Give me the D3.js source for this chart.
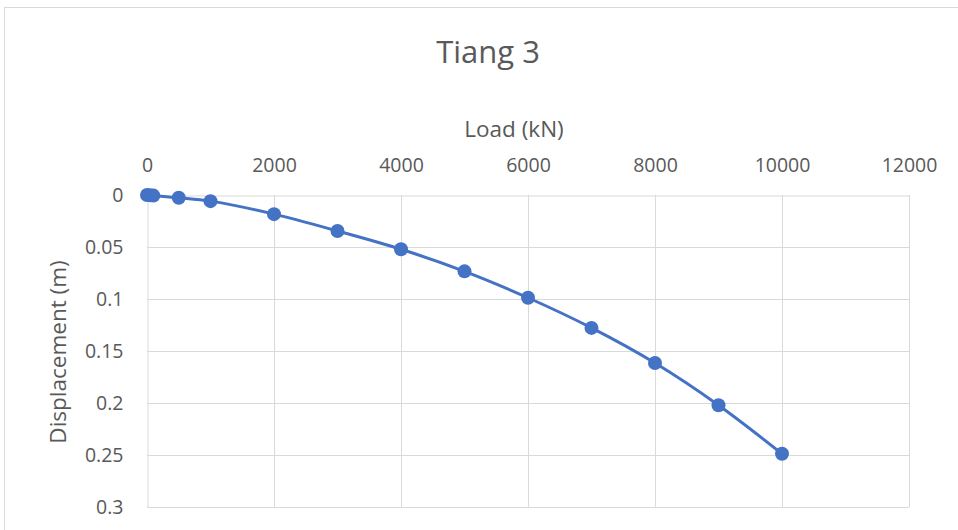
<!DOCTYPE html>
<html>
<head>
<meta charset="utf-8">
<script src="https://cdn.jsdelivr.net/npm/d3@7"></script>
<style>
html,body{margin:0;padding:0;background:#fff;}
svg{display:block;font-family:"Open Sans",sans-serif;}
</style>
</head>
<body>
<svg id="chart" width="958" height="530"></svg>
<script>
const chartTitle = "Tiang 3";
const xTitle = "Load (kN)";
const yTitle = "Displacement (m)";
const loads = [0, 50, 100, 500, 1000, 2000, 3000, 4000, 5000, 6000, 7000, 8000, 9000, 10000];
const displacements = [0, 0.0003, 0.0006, 0.0027, 0.0059, 0.0184, 0.0346, 0.0522, 0.0734, 0.0988, 0.1278, 0.1616, 0.2021, 0.2488];
const xTicks = [0, 2000, 4000, 6000, 8000, 10000, 12000];
const xTickLabels = ["0", "2000", "4000", "6000", "8000", "10000", "12000"];
const yTicks = [0, 0.05, 0.1, 0.15, 0.2, 0.25, 0.3];
const yTickLabels = ["0", "0.05", "0.1", "0.15", "0.2", "0.25", "0.3"];

const svg = d3.select("#chart");
const textColor = "#595959";
const gridColor = "#d9d9d9";
const blue = "#4472C4";

// outer chart border
svg.append("rect").attr("x", 4.5).attr("y", 7.5).attr("width", 1000).attr("height", 600)
  .attr("fill", "#fff").attr("stroke", gridColor).attr("stroke-width", 1);

const x = d3.scaleLinear().domain([0, 12000]).range([147, 909]);
const y = d3.scaleLinear().domain([0, 0.3]).range([195, 507]);

// gridlines
svg.append("g").selectAll("line").data(xTicks.slice(1)).join("line")
  .attr("x1", d => Math.round(x(d)) + 0.5).attr("x2", d => Math.round(x(d)) + 0.5)
  .attr("y1", y(0)).attr("y2", y(0.3))
  .attr("stroke", gridColor).attr("stroke-width", 1);
svg.append("g").selectAll("line").data(yTicks.slice(1)).join("line")
  .attr("y1", d => Math.round(y(d)) + 0.5).attr("y2", d => Math.round(y(d)) + 0.5)
  .attr("x1", x(0)).attr("x2", x(12000))
  .attr("stroke", gridColor).attr("stroke-width", 1);

// axes
const xAxis = d3.axisTop(x).tickValues(xTicks).tickSize(0).tickPadding(0)
  .tickFormat((d, i) => xTickLabels[i]);
const gx = svg.append("g").attr("transform", `translate(0,${Math.round(y(0)) + 0.5})`).call(xAxis);
gx.select(".domain").attr("stroke", gridColor);
gx.selectAll("text").attr("fill", textColor).style("font-size", "19.5px")
  .style("font-family", "'Open Sans',sans-serif").attr("y", -23.5).attr("dy", 0);

const yAxis = d3.axisLeft(y).tickValues(yTicks).tickSize(0).tickPadding(0)
  .tickFormat((d, i) => yTickLabels[i]);
const gy = svg.append("g").attr("transform", `translate(${Math.round(x(0)) + 0.5},0)`).call(yAxis);
gy.select(".domain").attr("stroke", gridColor);
gy.selectAll("text").attr("fill", textColor).style("font-size", "19.5px")
  .style("font-family", "'Open Sans',sans-serif").attr("x", -24).attr("dy", "0.35em");

// titles
svg.append("text").attr("x", 488).attr("y", 63).attr("text-anchor", "middle")
  .attr("fill", textColor).style("font-size", "31px").text(chartTitle);
svg.append("text").attr("x", 514).attr("y", 137).attr("text-anchor", "middle")
  .attr("fill", textColor).style("font-size", "22.5px").text(xTitle);
svg.append("text").attr("transform", "translate(66,352) rotate(-90)").attr("text-anchor", "middle")
  .attr("fill", textColor).style("font-size", "22.5px").text(yTitle);

// series
const pts = loads.map((l, i) => [l, displacements[i]]);
const line = d3.line().x(d => x(d[0])).y(d => y(d[1])).curve(d3.curveCatmullRom.alpha(0.5));
svg.append("path").datum(pts).attr("d", line).attr("fill", "none")
  .attr("stroke", blue).attr("stroke-width", 3).attr("stroke-linejoin", "round");
svg.append("g").selectAll("circle").data(pts).join("circle")
  .attr("cx", d => x(d[0])).attr("cy", d => y(d[1])).attr("r", 7)
  .attr("fill", blue);
</script>
</body>
</html>
